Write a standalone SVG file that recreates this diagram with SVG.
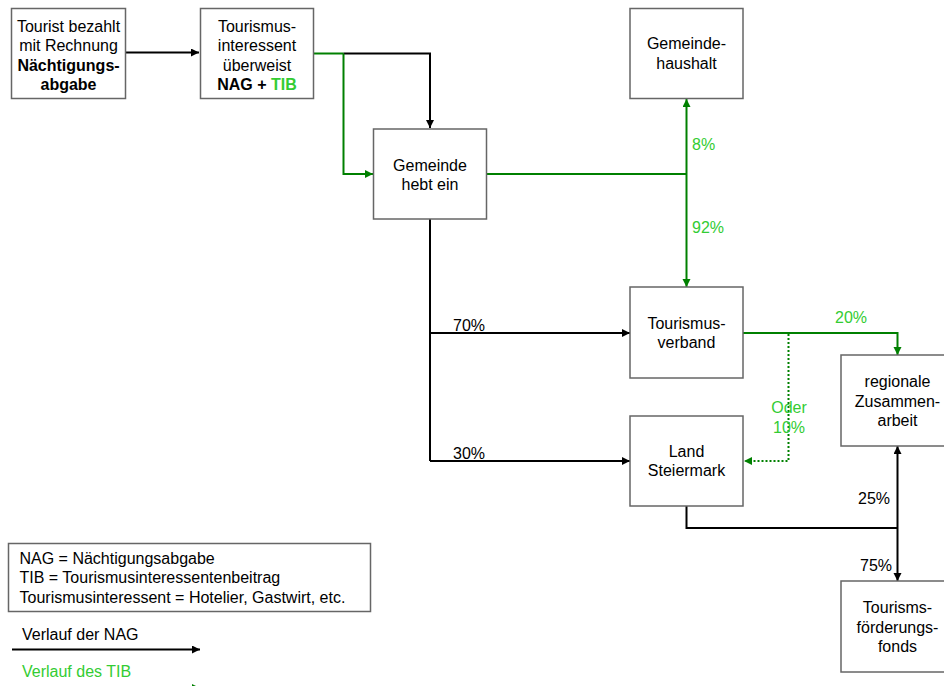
<svg xmlns="http://www.w3.org/2000/svg" width="944" height="686" viewBox="0 0 944 686">
<defs>
<style>
.box{fill:#fff;stroke:#666;stroke-width:1.5}
text{font-family:"Liberation Sans",Arial,sans-serif;font-size:16px;fill:#000}
.c{text-anchor:middle}
.b{font-weight:bold}
.g{fill:#33cc33}
.k{fill:none;stroke:#000;stroke-width:2}
.gr{fill:none;stroke:#008000;stroke-width:2}
.dot{fill:none;stroke:#008000;stroke-width:2;stroke-dasharray:2,2}
</style>
<marker id="ak" markerUnits="userSpaceOnUse" markerWidth="9" markerHeight="9" refX="8" refY="4" orient="auto-start-reverse"><path d="M0,0 L8,4 L0,8 z" fill="#000"/></marker>
<marker id="ag" markerUnits="userSpaceOnUse" markerWidth="9" markerHeight="9" refX="8" refY="4" orient="auto-start-reverse"><path d="M0,0 L8,4 L0,8 z" fill="#008000"/></marker>
</defs>
<rect width="944" height="686" fill="#fff"/>

<g id="connectors">
<path class="k" d="M126,52.5 H199" marker-end="url(#ak)"/>
<path class="gr" d="M313,53.5 H343.5"/>
<path class="k" d="M343.5,53.5 H430 V128" marker-end="url(#ak)"/>
<path class="gr" d="M343.5,53.5 V174 H373" marker-end="url(#ag)"/>
<path class="gr" d="M487,174 H686.5"/>
<path class="gr" d="M686.5,99 V287" marker-start="url(#ag)" marker-end="url(#ag)"/>
<path class="k" d="M430,219 V461"/>
<path class="k" d="M430,333 H630" marker-end="url(#ak)"/>
<path class="k" d="M430,461 H630" marker-end="url(#ak)"/>
<path class="gr" d="M743,333 H897.5 V355" marker-end="url(#ag)"/>
<path class="dot" d="M788.5,334 V461 H744" marker-end="url(#ag)"/>
<path class="k" d="M686.5,506 V528 H897.5"/>
<path class="k" d="M897.5,446 V581" marker-start="url(#ak)" marker-end="url(#ak)"/>
<path class="k" d="M12,649.5 H200" marker-end="url(#ak)"/>
<path class="gr" d="M12,688 H200" marker-end="url(#ag)"/>
</g>

<g id="labels">
<text class="g" x="692" y="150">8%</text>
<text class="g" x="692" y="233">92%</text>
<text x="453" y="331">70%</text>
<text x="453" y="459">30%</text>
<text class="g c" x="851" y="323">20%</text>
<text class="g c" x="789" y="413">Oder</text>
<text class="g c" x="789" y="433">10%</text>
<text x="858" y="504">25%</text>
<text x="860" y="571">75%</text>
</g>

<g id="tourist">
<rect class="box" x="11.5" y="8.5" width="114" height="90"/>
<text class="c" x="68.5" y="31.5">Tourist bezahlt</text>
<text class="c" x="68.5" y="51">mit Rechnung</text>
<text class="c b" x="68.5" y="70.5">Nächtigungs-</text>
<text class="c b" x="68.5" y="90">abgabe</text>
</g>

<g id="tourismusinteressent">
<rect class="box" x="200.5" y="8.5" width="113" height="90"/>
<text class="c" x="257" y="31.5">Tourismus-</text>
<text class="c" x="257" y="51">interessent</text>
<text class="c" x="257" y="70.5">überweist</text>
<text class="c b" x="257" y="90">NAG + <tspan class="g">TIB</tspan></text>
</g>

<g id="gemeinde">
<rect class="box" x="373.5" y="129" width="113" height="90"/>
<text class="c" x="430" y="171">Gemeinde</text>
<text class="c" x="430" y="190">hebt ein</text>
</g>

<g id="gemeindehaushalt">
<rect class="box" x="630" y="8.5" width="113" height="90"/>
<text class="c" x="686.5" y="49">Gemeinde-</text>
<text class="c" x="686.5" y="69">haushalt</text>
</g>

<g id="tourismusverband">
<rect class="box" x="630" y="287" width="113" height="91"/>
<text class="c" x="686.5" y="329">Tourismus-</text>
<text class="c" x="686.5" y="348">verband</text>
</g>

<g id="land">
<rect class="box" x="630" y="416" width="113" height="90"/>
<text class="c" x="686.5" y="457">Land</text>
<text class="c" x="686.5" y="476">Steiermark</text>
</g>

<g id="regionale">
<rect class="box" x="841" y="355" width="113" height="91"/>
<text class="c" x="897.5" y="387">regionale</text>
<text class="c" x="897.5" y="407">Zusammen-</text>
<text class="c" x="897.5" y="426">arbeit</text>
</g>

<g id="fonds">
<rect class="box" x="841" y="581" width="113" height="91"/>
<text class="c" x="897.5" y="613">Tourisms-</text>
<text class="c" x="897.5" y="633">förderungs-</text>
<text class="c" x="897.5" y="652">fonds</text>
</g>

<g id="legend">
<rect class="box" x="8.5" y="543.5" width="362" height="68"/>
<text x="19.5" y="564">NAG = Nächtigungsabgabe</text>
<text x="19.5" y="583">TIB = Tourismusinteressentenbeitrag</text>
<text x="19.5" y="602.5">Tourismusinteressent = Hotelier, Gastwirt, etc.</text>
<text x="22" y="640">Verlauf der NAG</text>
<text class="g" x="22" y="677">Verlauf des TIB</text>
</g>
</svg>
